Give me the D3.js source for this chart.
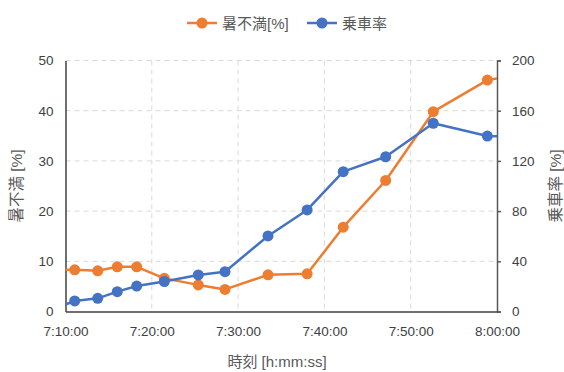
<!DOCTYPE html>
<html>
<head>
<meta charset="utf-8">
<script src="https://cdn.jsdelivr.net/npm/d3@7"></script>
<style>
  html, body { margin: 0; padding: 0; background: #fff; }
  svg { display: block; font-family: "Liberation Sans", "Noto Sans CJK JP", sans-serif; }
</style>
</head>
<body>
<svg id="chart" width="564" height="372"></svg>
<script>
// Observation times (h:mm:ss); first and last lie just outside the axis window
const times = ["7:08:24", "7:11:04", "7:13:44", "7:16:00", "7:18:15", "7:21:27", "7:25:23",
  "7:28:29", "7:33:28", "7:38:00", "7:42:11", "7:47:06", "7:52:37", "7:58:53", "8:01:30"];
// 暑不満 [%] (left axis)
const discomfort = [8.3, 8.3, 8.1, 8.9, 8.9, 6.6, 5.3, 4.4, 7.3, 7.5, 16.8, 26.1, 39.8, 46.1, 46.8];
// 乗車率 [%] (right axis)
const occupancy = [1.5, 8.4, 10.5, 15.8, 20.3, 23.9, 29.1, 31.7, 60.2, 80.9, 111.4, 123.3, 150.0, 139.8, 139.5];

const xTickLabels = ["7:10:00", "7:20:00", "7:30:00", "7:40:00", "7:50:00", "8:00:00"];
const leftTicks = [0, 10, 20, 30, 40, 50];
const rightTicks = [0, 40, 80, 120, 160, 200];

const seriesNames = ["暑不満[%]", "乗車率"];
const colors = ["#ED7D31", "#4472C4"];

const parseTime = d3.timeParse("%H:%M:%S");
const svg = d3.select("#chart");

const plot = { left: 65.5, right: 497, top: 60.5, bottom: 311.5 };

const x = d3.scaleTime()
  .domain([parseTime("7:10:00"), parseTime("8:00:00")])
  .range([plot.left, plot.right]);
const yL = d3.scaleLinear().domain([0, 50]).range([plot.bottom, plot.top]);
const yR = d3.scaleLinear().domain([0, 200]).range([plot.bottom, plot.top]);

const tickColor = "#404040";
const titleColor = "#595959";

// Dashed gridlines
const grid = svg.append("g").attr("stroke", "#d9d9d9").attr("stroke-width", 1)
  .attr("stroke-dasharray", "5,4").attr("fill", "none");
grid.selectAll("line.h").data(leftTicks.filter(d => d > 0)).join("line")
  .attr("x1", plot.left).attr("x2", plot.right)
  .attr("y1", d => yL(d)).attr("y2", d => yL(d));
grid.selectAll("line.v").data(xTickLabels.slice(1, -1)).join("line")
  .attr("x1", d => x(parseTime(d))).attr("x2", d => x(parseTime(d)))
  .attr("y1", plot.top).attr("y2", plot.bottom);

// Left axis
const leftAxis = svg.append("g").attr("transform", `translate(${plot.left},0)`)
  .call(d3.axisLeft(yL).tickValues(leftTicks).tickSize(0).tickPadding(12));
leftAxis.select(".domain").attr("stroke", "#404040").attr("stroke-width", 1.5);

// Right axis with outward ticks
const rightAxis = svg.append("g").attr("transform", `translate(${plot.right},0)`)
  .call(d3.axisRight(yR).tickValues(rightTicks).tickSizeInner(4).tickSizeOuter(4).tickPadding(11));
rightAxis.select(".domain").attr("stroke", "#595959").attr("stroke-width", 1.5);
rightAxis.selectAll(".tick line").attr("stroke", "#595959").attr("stroke-width", 1.5);

// Bottom axis
const bottomAxis = svg.append("g").attr("transform", `translate(0,${plot.bottom})`)
  .call(d3.axisBottom(x).tickValues(xTickLabels.map(parseTime)).tickSize(0).tickPadding(15)
    .tickFormat(d3.timeFormat("%-H:%M:%S")));
bottomAxis.select(".domain").attr("stroke", "#404040").attr("stroke-width", 1.5);

[leftAxis, rightAxis, bottomAxis].forEach(g => {
  g.selectAll(".tick text").attr("fill", tickColor).attr("font-size", 13.5)
    .attr("font-family", "'Liberation Sans', 'Noto Sans CJK JP', sans-serif");
});

// Axis titles
svg.append("text").attr("x", 277).attr("y", 367).attr("text-anchor", "middle")
  .attr("font-size", 15).attr("fill", titleColor).text("時刻 [h:mm:ss]");
svg.append("text").attr("transform", `translate(22,${(plot.top + plot.bottom) / 2}) rotate(-90)`)
  .attr("text-anchor", "middle").attr("font-size", 15.5).attr("fill", titleColor).text("暑不満 [%]");
svg.append("text").attr("transform", `translate(561,${(plot.top + plot.bottom) / 2}) rotate(-90)`)
  .attr("text-anchor", "middle").attr("font-size", 15.5).attr("fill", titleColor).text("乗車率 [%]");

// Clip series to the plot area
svg.append("clipPath").attr("id", "plotClip").append("rect")
  .attr("x", plot.left).attr("y", plot.top - 8)
  .attr("width", plot.right - plot.left).attr("height", plot.bottom - plot.top + 8);

const series = [
  { name: seriesNames[0], values: discomfort, y: yL, color: colors[0] },
  { name: seriesNames[1], values: occupancy, y: yR, color: colors[1] }
];

const seriesG = svg.append("g").attr("clip-path", "url(#plotClip)");
series.forEach(s => {
  const pts = times.map((t, i) => ({ t: parseTime(t), v: s.values[i] }));
  seriesG.append("path").datum(pts)
    .attr("fill", "none").attr("stroke", s.color).attr("stroke-width", 2.5)
    .attr("stroke-linejoin", "round")
    .attr("d", d3.line().x(d => x(d.t)).y(d => s.y(d.v)));
  seriesG.append("g").selectAll("circle").data(pts).join("circle")
    .attr("cx", d => x(d.t)).attr("cy", d => s.y(d.v)).attr("r", 5.5)
    .attr("fill", s.color);
});

// Legend
const legendItems = [
  { name: seriesNames[0], color: colors[0], x: 187 },
  { name: seriesNames[1], color: colors[1], x: 307 }
];
const legend = svg.append("g");
legendItems.forEach(item => {
  const g = legend.append("g").attr("transform", `translate(${item.x},23)`);
  g.append("line").attr("x1", 0).attr("x2", 30).attr("y1", 0).attr("y2", 0)
    .attr("stroke", item.color).attr("stroke-width", 2.5);
  g.append("circle").attr("cx", 15).attr("cy", 0).attr("r", 5.5).attr("fill", item.color);
  g.append("text").attr("x", 35).attr("y", 5.5).attr("font-size", 15)
    .attr("fill", titleColor).text(item.name);
});
</script>
</body>
</html>
